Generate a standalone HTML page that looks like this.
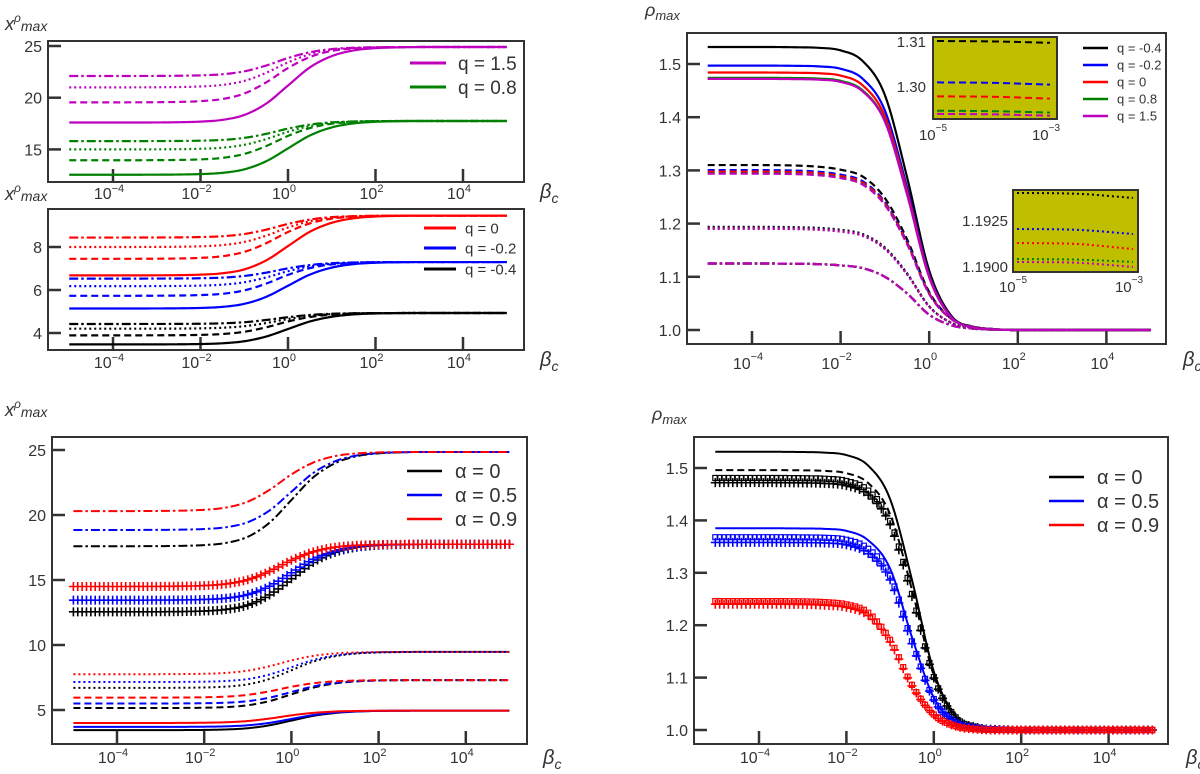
<!DOCTYPE html>
<html><head><meta charset="utf-8"><title>x and rho max vs beta_c</title>
<style>
html,body{margin:0;padding:0;background:#fff;}
svg{display:block;font-family:"Liberation Sans","DejaVu Sans",sans-serif;}
</style></head>
<body>
<svg id="fig" width="1200" height="774" viewBox="0 0 1200 774" xmlns="http://www.w3.org/2000/svg"></svg>
<script>
// ---------- data ----------
const LOGB = [-5,-4,-3,-2.5,-2,-1.5,-1,-0.5,0,0.5,1,1.5,2,2.5,3,4,5];
const riseSolid = [0,0,0.001,0.004,0.012,0.035,0.10,0.25,0.49,0.73,0.88,0.955,0.985,0.995,1,1,1];
const riseEarly = [0,0,0.003,0.008,0.022,0.06,0.16,0.36,0.62,0.82,0.93,0.975,0.992,0.998,1,1,1];
const dropSolid = [0,0,0.001,0.003,0.012,0.05,0.17,0.46,0.79,0.95,0.99,0.998,1,1,1,1,1];
const dropBroad = [0,0,0.003,0.01,0.028,0.07,0.2,0.45,0.77,0.93,0.98,0.995,1,1,1,1,1];
const dropA05 = [0,0,0.001,0.003,0.013,0.06,0.2,0.54,0.84,0.96,0.99,0.998,1,1,1,1,1];
const dropA09 = [0,0,0.002,0.008,0.025,0.09,0.3,0.65,0.88,0.97,0.995,1,1,1,1,1,1];

// panel 1 (solid, dashed, dotted, dash-dot)
const p1Labels = ['q = 1.5','q = 0.8'];
const p1MagStart = [17.6,19.55,21.0,22.1];
const p1MagEnd = 24.9;
const p1GrnStart = [12.55,13.95,15.0,15.8];
const p1GrnEnd = 17.75;
// panel 2
const p2Labels = ['q = 0','q = -0.2','q = -0.4'];
const p2RedStart = [6.68,7.45,8.0,8.44];
const p2RedEnd = 9.46;
const p2BluStart = [5.14,5.73,6.18,6.53];
const p2BluEnd = 7.3;
const p2BlkStart = [3.47,3.89,4.2,4.42];
const p2BlkEnd = 4.93;
// panel 3 (top-right): black, blue, red, green, magenta
const p3Labels = ['q = -0.4','q = -0.2','q = 0','q = 0.8','q = 1.5'];
const p3Solid = [1.532,1.497,1.484,1.474,1.472];
const p3Dashed = [1.310,1.3005,1.2977,1.2945,1.2938];
const p3Dotted = [1.1939,1.1920,1.1912,1.1904,1.1902];
const p3DashDot = [1.125,1.125,1.125,1.125,1.125];
const p3End = 1.0;
const inset1Log = [-5,-4,-3];
const inset1Black = [1.3100,1.3099,1.3096];
const inset1Blue = [1.3008,1.3007,1.3003];
const inset1Red = [1.2977,1.2976,1.2972];
const inset1Green = [1.2945,1.2944,1.2941];
const inset1Mag = [1.2938,1.2937,1.2934];
const inset2Black = [1.19397,1.19393,1.19370];
const inset2Blue = [1.19201,1.19197,1.19174];
const inset2Red = [1.19125,1.19120,1.19092];
const inset2Green = [1.19038,1.19035,1.19022];
const inset2Mag = [1.19022,1.19018,1.18995];
// panel 4 (bottom-left): alpha 0, 0.5, 0.9
const p4Labels = ['α = 0','α = 0.5','α = 0.9'];
const p4DashDot = [17.6,18.85,20.3];
const p4DashDotEnd = 24.85;
const p4Plus = [12.55,13.45,14.5];
const p4PlusEnd = 17.75;
const p4Dotted = [6.7,7.15,7.75];
const p4DottedEnd = 9.47;
const p4Dashed = [5.15,5.5,5.95];
const p4DashedEnd = 7.3;
const p4Solid = [3.45,3.7,4.0];
const p4SolidEnd = 4.95;
// panel 5 (bottom-right)
const p5Labels = ['α = 0','α = 0.5','α = 0.9'];
const p5BlackSolid = 1.531;
const p5BlackDashed = 1.496;
const p5BlackSquares = 1.481;
const p5BlackPlus = 1.472;
const p5BlueSolid = 1.385;
const p5BlueSquares = 1.368;
const p5BluePlus = 1.358;
const p5RedSquares = 1.246;
const p5RedPlus = 1.240;
const p5End = 1.0;

const yt1 = [15,20,25];
const yt2 = [4,6,8];
const yt3 = [1.0,1.1,1.2,1.3,1.4,1.5];
const yt4 = [5,10,15,20,25];
const xtLog = [-4,-2,0,2,4];

// ---------- helpers ----------
const NS='http://www.w3.org/2000/svg';
const svg=document.getElementById('fig');
function mk(tag,attrs,parent){const e=document.createElementNS(NS,tag);for(const k in attrs)e.setAttribute(k,attrs[k]);(parent||svg).appendChild(e);return e;}
function mono(xs,ys){
  const n=xs.length,d=[],m=new Array(n);
  for(let i=0;i<n-1;i++)d.push((ys[i+1]-ys[i])/(xs[i+1]-xs[i]));
  m[0]=d[0];m[n-1]=d[n-2];
  for(let i=1;i<n-1;i++)m[i]=(d[i-1]*d[i]<=0)?0:(d[i-1]+d[i])/2;
  for(let i=0;i<n-1;i++){
    if(d[i]===0){m[i]=0;m[i+1]=0;continue;}
    const a=m[i]/d[i],b=m[i+1]/d[i],s=a*a+b*b;
    if(s>9){const t=3/Math.sqrt(s);m[i]=t*a*d[i];m[i+1]=t*b*d[i];}
  }
  return function(x){
    let i=0;while(i<n-2&&x>xs[i+1])i++;
    const h=xs[i+1]-xs[i],t=Math.min(1,Math.max(0,(x-xs[i])/h));
    const t2=t*t,t3=t2*t;
    return (2*t3-3*t2+1)*ys[i]+(t3-2*t2+t)*h*m[i]+(-2*t3+3*t2)*ys[i+1]+(t3-t2)*h*m[i+1];
  };
}
function series(start,end,prof){return prof.map(p=>start+(end-start)*p);}
function makePanel(o){
  o.x=l=>o.x4+(l+4)*o.dec;
  o.y=v=>o.yA+(v-o.vA)*o.k;
  return o;
}
const DASH={solid:null,dashed:'7,4',dotted:'2,3',dashdot:'9,3,2.5,3'};
function line(P,f,color,style,name,w){
  let d='';
  for(let l=-5;l<=5.0001;l+=0.05){d+=(d?'L':'M')+P.x(l).toFixed(2)+','+P.y(f(l)).toFixed(2);}
  const p=mk('path',{d:d,fill:'none',stroke:color,'stroke-width':w||2.2});
  if(DASH[style])p.setAttribute('stroke-dasharray',DASH[style]);
  
  
  return p;
}
function plusMarks(P,f,color,name){
  let d='';
  for(let l=-5;l<=5.0001;l+=0.1){const X=P.x(l),Y=P.y(f(l));d+='M'+(X-4.5)+','+Y+'h9M'+X+','+(Y-4.5)+'v9';}
  const p=mk('path',{d:d,fill:'none',stroke:color,'stroke-width':1.6});
  
  
}
function squareMarks(P,f,color,name){
  let d='';
  for(let l=-5;l<=5.0001;l+=0.1){const X=P.x(l),Y=P.y(f(l));d+='M'+(X-2.5)+','+(Y-2.5)+'h5v5h-5z';}
  const p=mk('path',{d:d,fill:'none',stroke:color,'stroke-width':1.2});
  
  
}
function frame(P,name,yt,yfmt,labY,supStyle){
  const r=mk('rect',{x:P.box[0],y:P.box[1],width:P.box[2]-P.box[0],height:P.box[3]-P.box[1],fill:'none',stroke:'#333','stroke-width':2});
  
  
  yt.forEach(v=>{
    const Y=P.y(v);
    const t=mk('line',{x1:P.box[0],x2:P.box[0]+13,y1:Y,y2:Y,stroke:'#333','stroke-width':2.5});
    
    
    const tx=mk('text',{x:P.box[0]-6,y:Y+6,'text-anchor':'end','font-size':16,fill:'#333'});
    tx.textContent=yfmt(v);
    
    
  });
  xtLog.forEach(l=>{
    const X=P.x(l);
    const t=mk('line',{x1:X,x2:X,y1:P.box[3],y2:P.box[3]-13,stroke:'#333','stroke-width':2.5});
    
    
    const tx=mk('text',{x:X-4,y:labY+6,'text-anchor':'middle','font-size':16,fill:'#333'});
    const exp=(l<0?'−':'')+Math.abs(l);
    tx.innerHTML='10<tspan font-size="11" dy="'+(supStyle?-9:-7)+'">'+exp+'</tspan>';
    
    
  });
}
function xlabel(x,y,name){
  const t=mk('text',{x:x,y:y,'font-size':20,fill:'#333','font-style':'italic'});
  t.innerHTML='β<tspan font-size="14" dy="5">c</tspan>';
  
  
}
function ylabelX(x,y,name){
  const t=mk('text',{x:x,y:y,'font-size':18,fill:'#333','font-style':'italic'});
  t.innerHTML='x<tspan font-size="12" dy="-8">ρ</tspan><tspan font-size="14" dy="9">max</tspan>';
  
  
}
function ylabelR(x,y,name){
  const t=mk('text',{x:x,y:y,'font-size':18,fill:'#333','font-style':'italic'});
  t.innerHTML='ρ<tspan font-size="13" dy="4">max</tspan>';
  
  
}
function legend(x1,x2,tx,ys,labels,colors,fs,lw,name){
  labels.forEach((lab,i)=>{
    const l=mk('line',{x1:x1,x2:x2,y1:ys[i],y2:ys[i],stroke:colors[i],'stroke-width':lw});
    
    
    const t=mk('text',{x:tx,y:ys[i]+fs*0.36,'font-size':fs,fill:'#333'});
    t.textContent=lab;
    
    
  });
}
const STY=['solid','dashed','dotted','dashdot'];
const C={mag:'#bf00bf',grn:'#008000',red:'#ff0000',blu:'#0000ff',blk:'#000000'};

// ---------- panel 1 ----------
const P1=makePanel({box:[48,41,524,182],x4:113,dec:43.75,vA:25,yA:46,k:-10.34});
frame(P1,'top-left-upper',yt1,v=>String(v),193,false);
[[p1MagStart,p1MagEnd,C.mag,'q1.5'],[p1GrnStart,p1GrnEnd,C.grn,'q0.8']].forEach(g=>{
  g[0].forEach((s,i)=>{line(P1,mono(LOGB,series(s,g[1],i===0?riseSolid:riseEarly)),g[2],STY[i],'curve-'+g[3]+'-'+STY[i]);});
});
legend(410,446,458,[63,87],p1Labels,[C.mag,C.grn],19,3,'legend-upper');
ylabelX(5,30,'y-axis-title-upper');
xlabel(540,198,'x-axis-title-upper');

// ---------- panel 2 ----------
const P2=makePanel({box:[48,209,524,350],x4:113,dec:43.75,vA:8,yA:247,k:-21.5});
frame(P2,'top-left-lower',yt2,v=>String(v),362,false);
[[p2RedStart,p2RedEnd,C.red,'q0'],[p2BluStart,p2BluEnd,C.blu,'q-0.2'],[p2BlkStart,p2BlkEnd,C.blk,'q-0.4']].forEach(g=>{
  g[0].forEach((s,i)=>{line(P2,mono(LOGB,series(s,g[1],i===0?riseSolid:riseEarly)),g[2],STY[i],'curve-'+g[3]+'-'+STY[i]);});
});
legend(424,456,465,[228,248,269],p2Labels,[C.red,C.blu,C.blk],15,3,'legend-lower');
ylabelX(5,200,'y-axis-title-lower');
xlabel(540,366,'x-axis-title-lower');

// ---------- panel 3 ----------
const P3=makePanel({box:[687,33,1166,344],x4:752,dec:44.3,vA:1.0,yA:330,k:-532});
frame(P3,'top-right',yt3,v=>v.toFixed(1),363,true);
const c3=[C.blk,C.blu,C.red,C.grn,C.mag];
[[p3DashDot,'dashdot',dropBroad],[p3Dotted,'dotted',dropBroad],[p3Dashed,'dashed',dropBroad],[p3Solid,'solid',dropSolid]].forEach(g=>{
  g[0].forEach((s,i)=>{line(P3,mono(LOGB,series(s,p3End,g[2])),c3[i],g[1],'curve-'+p3Labels[i].replace(/ /g,'')+'-'+g[1]);});
});
legend(1083,1108,1117,[48,65,82,99,116],p3Labels,c3,13,2.6,'legend-top-right');
ylabelR(645,16,'y-axis-title-top-right');
xlabel(1183,366,'x-axis-title-top-right');
// insets
function inset(box,xm,ym,dataSets,style,ticks,fmt,labRight,name,xlabY){
  const r=mk('rect',{x:box[0],y:box[1],width:box[2]-box[0],height:box[3]-box[1],fill:'#bfbf00',stroke:'#333','stroke-width':2});
  
  
  dataSets.forEach((ys,i)=>{
    const f=mono(inset1Log,ys);let d='';
    for(let l=-5;l<=-3.0001+0.05;l+=0.05){const lc=Math.min(l,-3);d+=(d?'L':'M')+xm(lc).toFixed(2)+','+ym(f(lc)).toFixed(2);}
    const p=mk('path',{d:d,fill:'none',stroke:c3[i],'stroke-width':2,'stroke-dasharray':DASH[style]});
    
    
  });
  ticks.forEach(v=>{
    const t=mk('text',{x:labRight,y:ym(v)+6,'text-anchor':'end','font-size':15,fill:'#333'});
    t.textContent=fmt(v);
    
    
  });
  [-5,-3].forEach(l=>{
    const t=mk('text',{x:xm(l)-4,y:xlabY,'text-anchor':'middle','font-size':15,fill:'#333'});
    t.innerHTML='10<tspan font-size="10" dy="-9">−'+Math.abs(l)+'</tspan>';
    
    
  });
}
inset([933,37,1057,119],l=>937+(l+5)*56.5,v=>86-(v-1.30)*4500,[inset1Black,inset1Blue,inset1Red,inset1Green,inset1Mag],'dashed',[1.30,1.31],v=>v.toFixed(2),926,'inset-dashed',140);
inset([1013,190,1138,272],l=>1017+(l+5)*58,v=>266-(v-1.19)*18400,[inset2Black,inset2Blue,inset2Red,inset2Green,inset2Mag],'dotted',[1.19,1.1925],v=>v.toFixed(4),1008,'inset-dotted',292);

// ---------- panel 4 ----------
const P4=makePanel({box:[52,437,527,744],x4:117,dec:43.6,vA:5,yA:710,k:-13});
frame(P4,'bottom-left',yt4,v=>String(v),757,false);
const c4=[C.blk,C.blu,C.red];
c4.forEach((col,i)=>{
  const pr=i===2?riseEarly:riseSolid;
  line(P4,mono(LOGB,series(p4DashDot[i],p4DashDotEnd,pr)),col,'dashdot','curve-alpha'+i+'-dashdot',2);
  plusMarks(P4,mono(LOGB,series(p4Plus[i],p4PlusEnd,pr)),col,'markers-alpha'+i+'-plus');
  line(P4,mono(LOGB,series(p4Dotted[i],p4DottedEnd,pr)),col,'dotted','curve-alpha'+i+'-dotted',2);
  line(P4,mono(LOGB,series(p4Dashed[i],p4DashedEnd,pr)),col,'dashed','curve-alpha'+i+'-dashed',2);
  line(P4,mono(LOGB,series(p4Solid[i],p4SolidEnd,pr)),col,'solid','curve-alpha'+i+'-solid',2);
});
legend(407,442,455,[471,495,519],p4Labels,c4,20,2.5,'legend-bottom-left');
ylabelX(5,416,'y-axis-title-bottom-left');
xlabel(543,764,'x-axis-title-bottom-left');

// ---------- panel 5 ----------
const P5=makePanel({box:[694,437,1168,744],x4:759,dec:43.7,vA:1.0,yA:730,k:-524});
frame(P5,'bottom-right',yt3,v=>v.toFixed(1),757,false);
line(P5,mono(LOGB,series(p5BlackSolid,p5End,dropSolid)),C.blk,'solid','curve-alpha0-solid',2);
line(P5,mono(LOGB,series(p5BlackDashed,p5End,dropSolid)),C.blk,'dashed','curve-alpha0-dashed',2);
squareMarks(P5,mono(LOGB,series(p5BlackSquares,p5End,dropSolid)),C.blk,'markers-alpha0-square');
plusMarks(P5,mono(LOGB,series(p5BlackPlus,p5End,dropSolid)),C.blk,'markers-alpha0-plus');
line(P5,mono(LOGB,series(p5BlueSolid,p5End,dropA05)),C.blu,'solid','curve-alpha05-solid',2);
squareMarks(P5,mono(LOGB,series(p5BlueSquares,p5End,dropA05)),C.blu,'markers-alpha05-square');
plusMarks(P5,mono(LOGB,series(p5BluePlus,p5End,dropA05)),C.blu,'markers-alpha05-plus');
squareMarks(P5,mono(LOGB,series(p5RedSquares,p5End,dropA09)),C.red,'markers-alpha09-square');
plusMarks(P5,mono(LOGB,series(p5RedPlus,p5End,dropA09)),C.red,'markers-alpha09-plus');
legend(1049,1084,1097,[477,501,525],p5Labels,c4,20,2.5,'legend-bottom-right');
ylabelR(652,420,'y-axis-title-bottom-right');
xlabel(1186,764,'x-axis-title-bottom-right');
</script>
</body></html>
